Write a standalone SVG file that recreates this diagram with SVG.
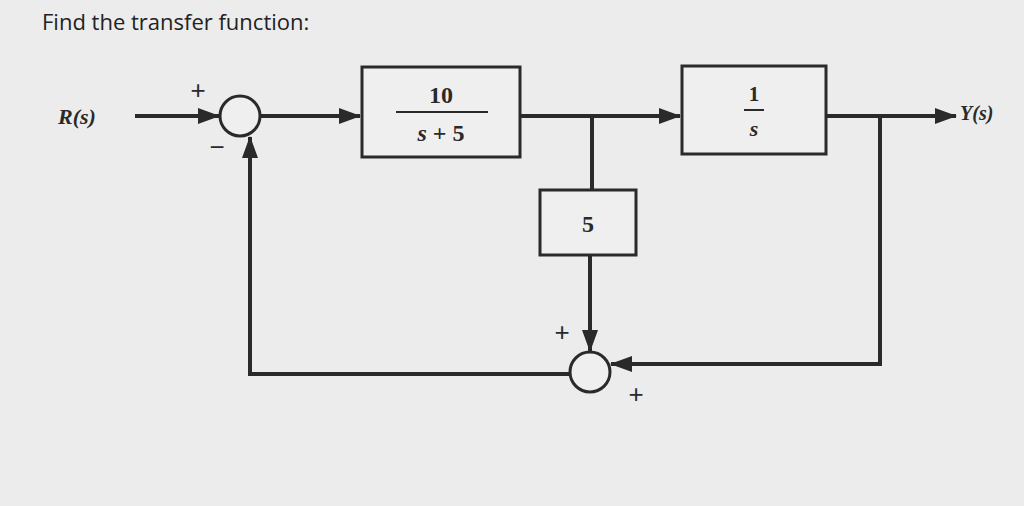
<svg xmlns="http://www.w3.org/2000/svg" width="1024" height="506" viewBox="0 0 1024 506">
<style>
.w{stroke:#2a2a2a;stroke-width:4;fill:none}
.b{stroke:#2a2a2a;stroke-width:3;fill:#efefef}
.t{font-family:"Liberation Serif",serif;font-weight:bold;fill:#2a2a2a;text-anchor:middle}
.i{font-family:"Liberation Serif",serif;font-style:italic;font-weight:bold;fill:#2a2a2a}
.p{font-family:"Liberation Sans",sans-serif;font-size:26px;text-anchor:middle;fill:#2a2a2a}
</style>
<defs><marker id="a" viewBox="0 0 22 16" markerWidth="22" markerHeight="16" refX="21" refY="8" orient="auto" markerUnits="userSpaceOnUse"><path d="M0,0L22,8L0,16z" fill="#2a2a2a"/></marker></defs>
<rect width="1024" height="506" fill="#ececec"/>
<text x="42" y="30" font-family="Open Sans,sans-serif" font-size="22" fill="#222">Find the transfer function:</text>
<g id="connectors">
<path class="w" d="M135,116H219" marker-end="url(#a)"/>
<path class="w" d="M260,116H360" marker-end="url(#a)"/>
<path class="w" d="M520,116H680" marker-end="url(#a)"/>
<path class="w" d="M826,116H956" marker-end="url(#a)"/>
<path class="w" d="M592,116V190"/>
<path class="w" d="M590,255V351" marker-end="url(#a)"/>
<path class="w" d="M880,116V364H611" marker-end="url(#a)"/>
<path class="w" d="M570,374H250V137" marker-end="url(#a)"/>
</g>
<g id="sum1"><circle class="b" cx="240" cy="116" r="20"/><text class="p" x="198" y="99">+</text><text class="p" x="217" y="156">−</text></g>
<g id="input"><text class="i" x="58" y="124" font-size="22">R(s)</text></g>
<g id="g1"><rect class="b" x="362" y="67" width="158" height="90"/><text class="t" x="441" y="103" font-size="24">10</text><path d="M396,112H488" stroke="#2a2a2a" stroke-width="2"/><text class="t" x="441" y="141" font-size="24"><tspan font-style="italic">s</tspan> + 5</text></g>
<g id="g2"><rect class="b" x="682" y="66" width="144" height="88"/><text class="t" x="754" y="101" font-size="21">1</text><path d="M744,110H764" stroke="#2a2a2a" stroke-width="2"/><text class="t" x="754" y="136" font-size="22" font-style="italic">s</text></g>
<g id="output"><text class="i" x="960" y="120" font-size="20">Y(s)</text></g>
<g id="g3"><rect class="b" x="540" y="190" width="96" height="65"/><text class="t" x="588" y="232" font-size="24">5</text></g>
<g id="sum2"><circle class="b" cx="590" cy="372" r="20"/><text class="p" x="562" y="341">+</text><text class="p" x="636" y="403">+</text></g>
</svg>
